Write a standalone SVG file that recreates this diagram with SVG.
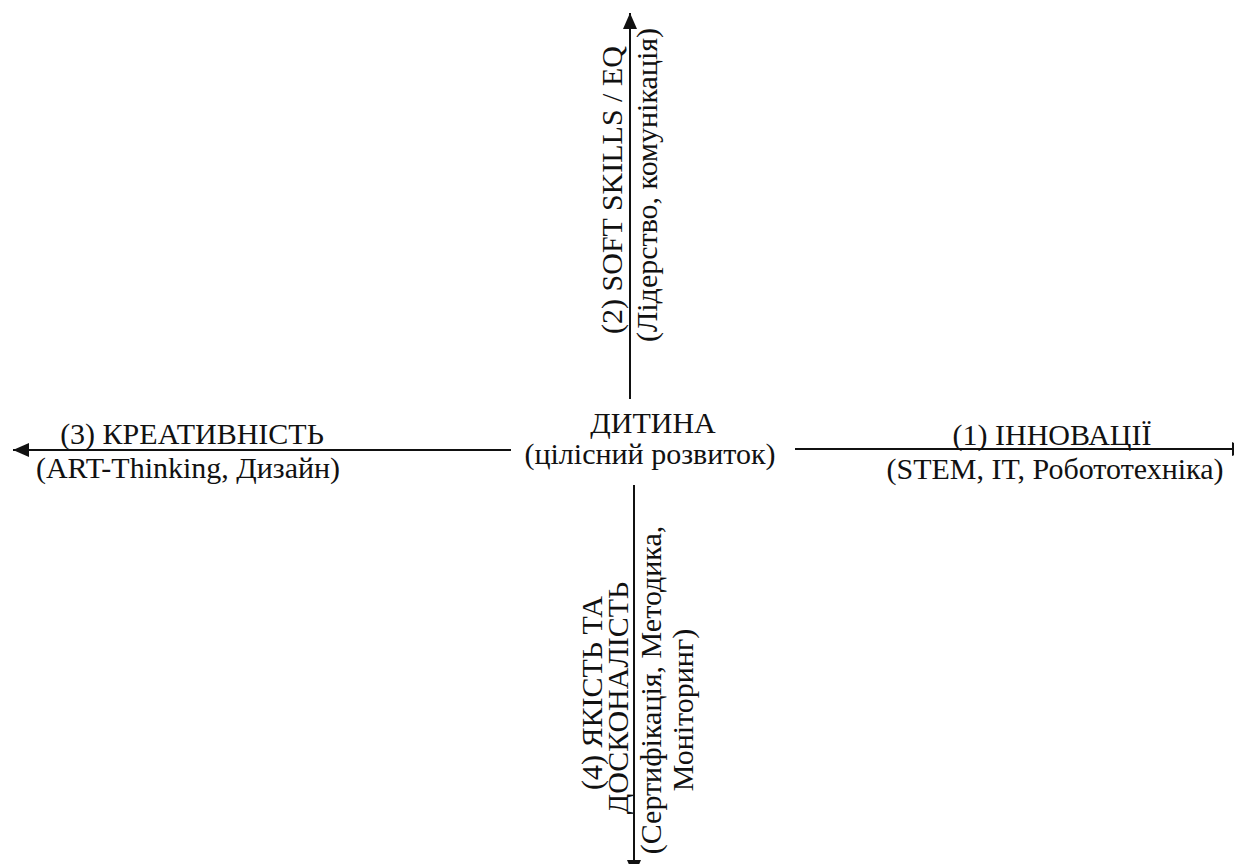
<svg xmlns="http://www.w3.org/2000/svg" width="1234" height="864" viewBox="0 0 1234 864">
<defs>
<marker id="ah" viewBox="0 0 16 14" refX="16" refY="7" markerWidth="16" markerHeight="14" markerUnits="userSpaceOnUse" orient="auto">
<path d="M0,0 L16,7 L0,14 Z" fill="#111"/>
</marker>
</defs>
<rect width="1234" height="864" fill="#fff"/>
<g id="connectors" stroke="#111" stroke-width="2" fill="none">
<line x1="630" y1="399" x2="630" y2="13" marker-end="url(#ah)"/>
<line x1="511" y1="450" x2="13" y2="450" marker-end="url(#ah)"/>
<line x1="795" y1="449" x2="1248" y2="449" marker-end="url(#ah)"/>
<line x1="634" y1="485" x2="634" y2="876" marker-end="url(#ah)"/>
</g>
<g font-family="Liberation Serif" font-size="30" fill="#111" text-anchor="middle">
<g id="center">
<text x="653" y="433">ДИТИНА</text>
<text x="650" y="464">(цілісний розвиток)</text>
</g>
<g id="node2">
<text transform="translate(622,190) rotate(-90)">(2) SOFT SKILLS / EQ</text>
<text transform="translate(657,185) rotate(-90)">(Лідерство, комунікація)</text>
</g>
<g id="node3">
<text x="192" y="444">(3) КРЕАТИВНІСТЬ</text>
<text x="188" y="478">(ART-Thinking, Дизайн)</text>
</g>
<g id="node1">
<text x="1052" y="445">(1) ІННОВАЦІЇ</text>
<text x="1055" y="479">(STEM, IT, Робототехніка)</text>
</g>
<g id="node4">
<text transform="translate(602,693) rotate(-90)">(4) ЯКІСТЬ ТА</text>
<text transform="translate(628,698) rotate(-90)">ДОСКОНАЛІСТЬ</text>
<text transform="translate(661,690) rotate(-90)">(Сертифікація, Методика,</text>
<text transform="translate(693,710) rotate(-90)">Моніторинг)</text>
</g>
</g>
</svg>
